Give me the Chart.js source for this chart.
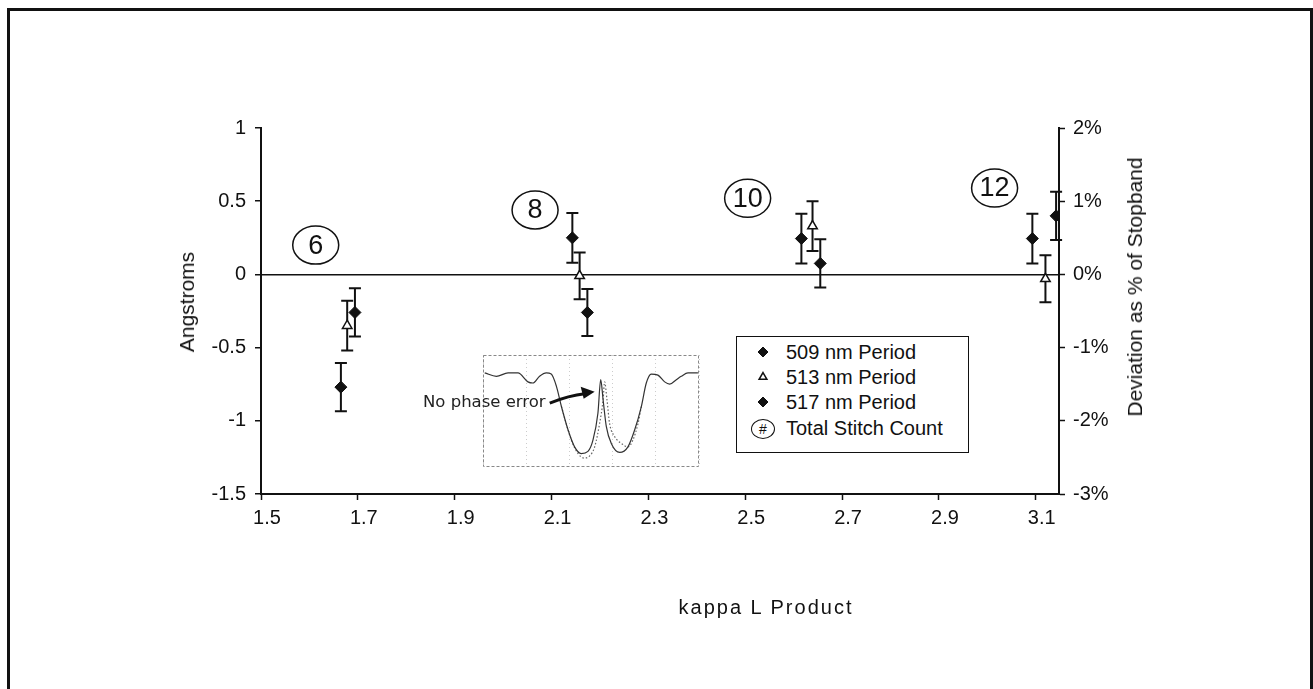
<!DOCTYPE html>
<html>
<head>
<meta charset="utf-8">
<script src="https://cdn.jsdelivr.net/npm/chart.js@4.4.1/dist/chart.umd.min.js"></script>
<style>
  html, body { margin: 0; padding: 0; background: #fff; overflow: hidden; }
  body { width: 1313px; height: 689px; position: relative; font-family: "Liberation Sans", Arial, sans-serif; color: #111; }
  #frame { position: absolute; left: 7px; top: 8px; width: 1300px; height: 720px; border: 3px solid #111; }
  #main { position: absolute; left: 0; top: 0; }
  #inset { position: absolute; left: 405px; top: 350px; }
  .ttl { position: absolute; white-space: nowrap; transform: translate(-50%, -50%); }
  .rot { transform: translate(-50%, -50%) rotate(-90deg); }
  #legend { position: absolute; left: 736px; top: 336px; width: 233px; height: 117px; border: 1.5px solid #111; box-sizing: border-box; background: #fff; }
  .row { position: absolute; left: 0; height: 25px; line-height: 25px; font-size: 20px; white-space: nowrap; }
  .row canvas { position: absolute; left: 16px; top: 2px; }
  .row span.txt { position: absolute; left: 49px; top: 0; }
  .hash { position: absolute; left: 14px; top: 3px; width: 22px; height: 18px; border: 1.5px solid #111; border-radius: 50%; font-size: 14px; line-height: 18px; text-align: center; }
</style>
</head>
<body>
<div id="frame"></div>
<canvas id="main" width="1313" height="689"></canvas>
<canvas id="inset" width="300" height="125"></canvas>
<div class="ttl rot" style="left:187px; top:302px; font-size:21px;">Angstroms</div>
<div class="ttl rot" style="left:1135px; top:287px; font-size:21px;">Deviation as % of Stopband</div>
<div class="ttl" style="left:766px; top:607px; font-size:20px; letter-spacing:2px;">kappa L Product</div>
<div id="legend"></div>
<script>
// series: kappa L product, deviation in Angstroms, error half-width
const seriesLabels = ['509 nm Period', '513 nm Period', '517 nm Period'];
const kappaL509 = [1.665, 2.143, 2.616, 3.093];
const dev509 = [-0.77, 0.25, 0.245, 0.245];
const err509 = [0.165, 0.17, 0.17, 0.17];
const kappaL513 = [1.678, 2.158, 2.639, 3.12];
const dev513 = [-0.35, -0.01, 0.33, -0.03];
const err513 = [0.17, 0.16, 0.17, 0.16];
const kappaL517 = [1.694, 2.174, 2.655, 3.142];
const dev517 = [-0.26, -0.26, 0.075, 0.40];
const err517 = [0.165, 0.16, 0.165, 0.165];

// circled total stitch count labels
const stitchCounts = ['6', '8', '10', '12'];
const stitchX = [1.613, 2.066, 2.505, 3.015];
const stitchY = [0.2, 0.44, 0.52, 0.59];

const xTicks = [1.5, 1.7, 1.9, 2.1, 2.3, 2.5, 2.7, 2.9, 3.1];

// inset spectrum (normalised units)
const insetSolidX = [0.008, 0.062, 0.116, 0.162, 0.208, 0.231, 0.262, 0.293, 0.316, 0.34, 0.363, 0.394, 0.424, 0.455, 0.486, 0.509, 0.532, 0.545, 0.556, 0.571, 0.594, 0.633, 0.671, 0.702, 0.733, 0.756, 0.779, 0.81, 0.841, 0.864, 0.895, 0.918, 0.949, 0.995];
const insetSolidY = [0.84, 0.81, 0.84, 0.84, 0.76, 0.75, 0.81, 0.84, 0.83, 0.72, 0.54, 0.33, 0.18, 0.12, 0.14, 0.24, 0.48, 0.78, 0.60, 0.36, 0.21, 0.13, 0.18, 0.33, 0.54, 0.75, 0.83, 0.82, 0.76, 0.74, 0.78, 0.81, 0.84, 0.84];
const insetDottedX = [0.363, 0.409, 0.44, 0.468, 0.494, 0.517, 0.54, 0.556, 0.563, 0.574, 0.586, 0.61, 0.641, 0.671, 0.694, 0.718, 0.733];
const insetDottedY = [0.54, 0.24, 0.12, 0.08, 0.10, 0.18, 0.39, 0.60, 0.76, 0.60, 0.39, 0.27, 0.21, 0.18, 0.24, 0.39, 0.54];
const insetNote = 'No phase error';
const noteAt = { x: 0.29, y: 0.536 };
const arrowTail = { x: 0.309, y: 0.571 };
const arrowBend = { x: 0.40, y: 0.64 };
const arrowTip = { x: 0.517, y: 0.672 };

const ink = '#111';
const tickFont = { family: '"Liberation Sans", Arial, sans-serif', size: 20 };

function toPoints(xs, ys) {
    return xs.map((x, i) => ({ x: x, y: ys[i] }));
}

// vertical error bars with caps, drawn under the markers
const errorBars = {
    id: 'errorBars',
    beforeDatasetsDraw(chart) {
        const { ctx, scales: { x, y } } = chart;
        ctx.save();
        ctx.strokeStyle = ink;
        ctx.lineWidth = 2;
        chart.data.datasets.forEach(ds => {
            ds.data.forEach((p, j) => {
                const px = x.getPixelForValue(p.x);
                const top = y.getPixelForValue(p.y + ds.errors[j]);
                const bot = y.getPixelForValue(p.y - ds.errors[j]);
                ctx.beginPath();
                ctx.moveTo(px, top); ctx.lineTo(px, bot);
                ctx.moveTo(px - 6, top); ctx.lineTo(px + 6, top);
                ctx.moveTo(px - 6, bot); ctx.lineTo(px + 6, bot);
                ctx.stroke();
            });
        });
        ctx.restore();
    }
};

const stitchLabels = {
    id: 'stitchLabels',
    afterDatasetsDraw(chart) {
        const { ctx, scales: { x, y } } = chart;
        ctx.save();
        ctx.strokeStyle = ink;
        ctx.fillStyle = ink;
        ctx.lineWidth = 1.5;
        ctx.font = '27px "Liberation Sans", Arial, sans-serif';
        ctx.textAlign = 'center';
        ctx.textBaseline = 'middle';
        stitchCounts.forEach((n, i) => {
            const px = x.getPixelForValue(stitchX[i]);
            const py = y.getPixelForValue(stitchY[i]);
            ctx.beginPath();
            ctx.ellipse(px, py, 23, 19, 0, 0, Math.PI * 2);
            ctx.stroke();
            ctx.fillText(n, px, py + 1);
        });
        ctx.restore();
    }
};

const mainChart = new Chart(document.getElementById('main'), {
    type: 'scatter',
    data: {
        datasets: [
            { label: seriesLabels[0], data: toPoints(kappaL509, dev509), errors: err509,
              pointStyle: 'rectRot', pointRadius: 6, backgroundColor: ink, borderColor: ink, borderWidth: 1 },
            { label: seriesLabels[1], data: toPoints(kappaL513, dev513), errors: err513,
              pointStyle: 'triangle', pointRadius: 5.5, backgroundColor: '#fff', borderColor: ink, borderWidth: 1.5 },
            { label: seriesLabels[2], data: toPoints(kappaL517, dev517), errors: err517,
              pointStyle: 'rectRot', pointRadius: 6, backgroundColor: ink, borderColor: ink, borderWidth: 1 }
        ]
    },
    options: {
        responsive: false,
        animation: false,
        layout: { padding: { top: 128 } },
        plugins: { legend: { display: false }, tooltip: { enabled: false } },
        scales: {
            x: {
                type: 'linear', min: 1.5, max: 3.148,
                afterBuildTicks: s => { s.ticks = xTicks.map(v => ({ value: v })); },
                afterFit: s => { s.height = 195; },
                ticks: { font: tickFont, color: ink, padding: 6, labelOffset: 6, maxRotation: 0,
                         callback: v => String(v) },
                grid: { drawOnChartArea: false, tickLength: 6, tickColor: ink, tickWidth: 1.5 },
                border: { color: ink, width: 2 }
            },
            y: {
                position: 'left', min: -1.5, max: 1,
                afterFit: s => { s.width = 261; },
                ticks: { stepSize: 0.5, font: tickFont, color: ink, padding: 9, callback: v => String(v) },
                grid: {
                    color: c => (c.tick && c.tick.value === 0 ? ink : 'rgba(0,0,0,0)'),
                    lineWidth: 1.5, tickLength: 6, tickColor: ink, tickWidth: 1.5
                },
                border: { color: ink, width: 2 }
            },
            y2: {
                position: 'right', min: -3, max: 2,
                afterFit: s => { s.width = 254; },
                ticks: { stepSize: 1, font: tickFont, color: ink, padding: 8, callback: v => v + '%' },
                grid: { drawOnChartArea: false, tickLength: 6, tickColor: ink, tickWidth: 1.5 },
                border: { color: ink, width: 2 }
            }
        }
    },
    plugins: [errorBars, stitchLabels]
});

// inset: box, note and arrow
const insetDecor = {
    id: 'insetDecor',
    afterDraw(chart) {
        const { ctx, chartArea: a, scales: { x, y } } = chart;
        ctx.save();
        ctx.strokeStyle = '#888';
        ctx.lineWidth = 1;
        ctx.setLineDash([3, 2]);
        ctx.strokeRect(a.left + 0.5, a.top + 0.5, a.width - 1, a.height - 1);
        ctx.setLineDash([]);
        ctx.fillStyle = '#222';
        ctx.font = '16.5px "DejaVu Sans", sans-serif';
        ctx.textAlign = 'right';
        ctx.textBaseline = 'alphabetic';
        ctx.fillText(insetNote, x.getPixelForValue(noteAt.x), y.getPixelForValue(noteAt.y));
        const tx = x.getPixelForValue(arrowTail.x), ty = y.getPixelForValue(arrowTail.y);
        const bx = x.getPixelForValue(arrowBend.x), by = y.getPixelForValue(arrowBend.y);
        const hx = x.getPixelForValue(arrowTip.x), hy = y.getPixelForValue(arrowTip.y);
        ctx.strokeStyle = '#111';
        ctx.lineWidth = 3;
        ctx.beginPath();
        ctx.moveTo(tx, ty);
        ctx.quadraticCurveTo(bx, by, hx - 10, hy + 2);
        ctx.stroke();
        ctx.fillStyle = '#111';
        ctx.beginPath();
        ctx.moveTo(hx, hy);
        ctx.lineTo(hx - 14, hy - 5);
        ctx.lineTo(hx - 11, hy + 7);
        ctx.closePath();
        ctx.fill();
        ctx.restore();
    }
};

new Chart(document.getElementById('inset'), {
    type: 'line',
    data: {
        datasets: [
            { data: toPoints(insetSolidX, insetSolidY), borderColor: '#333', borderWidth: 1.2,
              pointRadius: 0, cubicInterpolationMode: 'monotone' },
            { data: toPoints(insetDottedX, insetDottedY), borderColor: '#666', borderWidth: 1.2,
              borderDash: [1.5, 2], pointRadius: 0, cubicInterpolationMode: 'monotone' }
        ]
    },
    options: {
        responsive: false,
        animation: false,
        layout: { padding: { left: 78, right: 6, top: 5, bottom: 8 } },
        plugins: { legend: { display: false }, tooltip: { enabled: false } },
        scales: {
            x: { type: 'linear', min: 0, max: 1, afterFit: s => { s.height = 0; },
                 ticks: { display: false, stepSize: 0.2 },
                 grid: { drawTicks: false, color: '#ccc', lineWidth: 1 },
                 border: { display: false, dash: [1, 3] } },
            y: { min: 0, max: 1, afterFit: s => { s.width = 0; },
                 ticks: { display: false, stepSize: 0.25 },
                 grid: { display: false },
                 border: { display: false } }
        }
    },
    plugins: [insetDecor]
});

// legend built from the main chart's datasets
const legend = document.getElementById('legend');
const rowTops = [3, 28, 53, 79];
mainChart.data.datasets.forEach((ds, i) => {
    const row = document.createElement('div');
    row.className = 'row';
    row.style.top = rowTops[i] + 'px';
    const c = document.createElement('canvas');
    c.width = 20; c.height = 20;
    const g = c.getContext('2d');
    g.fillStyle = ds.backgroundColor;
    g.strokeStyle = ds.borderColor;
    g.lineWidth = ds.borderWidth;
    Chart.helpers.drawPoint(g, { pointStyle: ds.pointStyle, radius: ds.pointStyle === 'triangle' ? 4.5 : 5, borderWidth: ds.borderWidth, rotation: 0 }, 10, 10);
    row.appendChild(c);
    const t = document.createElement('span');
    t.className = 'txt';
    t.textContent = ds.label;
    row.appendChild(t);
    legend.appendChild(row);
});
const hashRow = document.createElement('div');
hashRow.className = 'row';
hashRow.style.top = rowTops[3] + 'px';
hashRow.innerHTML = '<span class="hash">#</span><span class="txt">Total Stitch Count</span>';
legend.appendChild(hashRow);
</script>
</body>
</html>
